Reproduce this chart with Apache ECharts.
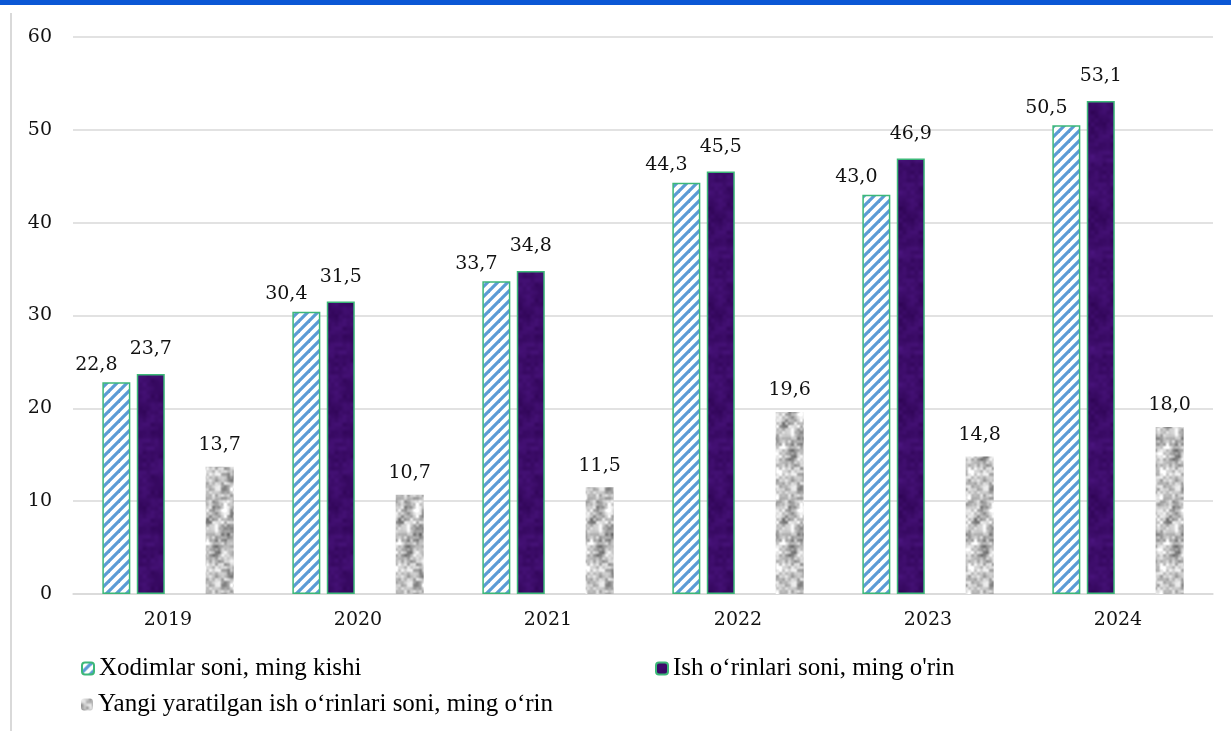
<!DOCTYPE html>
<html>
<head>
<meta charset="utf-8">
<script src="https://cdn.jsdelivr.net/npm/echarts@6/dist/echarts.min.js"></script>
<style>
html,body{margin:0;padding:0;background:#fff;}
#chart{width:1231px;height:731px;}
</style>
</head>
<body>
<div id="chart"></div>
<script>
const categories = ['2019','2020','2021','2022','2023','2024'];
const xodimlar = [22.8, 30.4, 33.7, 44.3, 43.0, 50.5];
const ishOrinlari = [23.7, 31.5, 34.8, 45.5, 46.9, 53.1];
const yangiOrinlar = [13.7, 10.7, 11.5, 19.6, 14.8, 18.0];
const seriesNames = ['Xodimlar soni, ming kishi', 'Ish o‘rinlari soni, ming o\'rin', 'Yangi yaratilgan ish o‘rinlari soni, ming o‘rin'];
const yTicks = [0, 10, 20, 30, 40, 50, 60];

function hash(x, y, s) {
  const v = Math.sin(x * 127.1 + y * 311.7 + s * 74.7) * 43758.5453;
  return v - Math.floor(v);
}
function smoothNoise(x, y, s, scale, period) {
  const p = Math.round(period / scale);
  const xi = Math.floor(x / scale), yi = Math.floor(y / scale);
  const fx = x / scale - xi, fy = y / scale - yi;
  const h = (a, b) => hash(((a % p) + p) % p, ((b % p) + p) % p, s);
  const a = h(xi, yi), b = h(xi + 1, yi), c = h(xi, yi + 1), d = h(xi + 1, yi + 1);
  const ux = fx * fx * (3 - 2 * fx), uy = fy * fy * (3 - 2 * fy);
  return a * (1 - ux) * (1 - uy) + b * ux * (1 - uy) + c * (1 - ux) * uy + d * ux * uy;
}
function stripePattern() {
  const c = document.createElement('canvas');
  c.width = 10; c.height = 10;
  const g = c.getContext('2d');
  g.fillStyle = '#ffffff'; g.fillRect(0, 0, 10, 10);
  g.strokeStyle = '#5b9bd5'; g.lineWidth = 3.2;
  for (let k = -1; k <= 1; k++) {
    g.beginPath();
    g.moveTo(-2 + k * 10, 12);
    g.lineTo(12 + k * 10, -2);
    g.stroke();
  }
  return c;
}
function texturePattern(base, amp, seed, size, s1, s2) {
  const c = document.createElement('canvas');
  c.width = size; c.height = size;
  const g = c.getContext('2d');
  const img = g.createImageData(size, size);
  for (let y = 0; y < size; y++) {
    for (let x = 0; x < size; x++) {
      const n = 0.6 * smoothNoise(x, y, seed, s1, size) + 0.4 * smoothNoise(x, y, seed + 3, s2, size) - 0.5;
      const i = (y * size + x) * 4;
      img.data[i] = Math.max(0, Math.min(255, base[0] + n * amp[0]));
      img.data[i + 1] = Math.max(0, Math.min(255, base[1] + n * amp[1]));
      img.data[i + 2] = Math.max(0, Math.min(255, base[2] + n * amp[2]));
      img.data[i + 3] = 255;
    }
  }
  g.putImageData(img, 0, 0);
  return c;
}
const stripes = { image: stripePattern(), repeat: 'repeat' };
const purple = { image: texturePattern([60, 12, 105], [30, 18, 45], 1, 96, 12, 4), repeat: 'repeat' };
const gray = { image: texturePattern([178, 178, 178], [200, 200, 200], 7, 96, 8, 3), repeat: 'repeat' };

const FONT_NUM = 'DejaVu Serif';
const FONT_LEG = 'Liberation Serif';
const labelBase = { show: true, position: 'top', fontFamily: FONT_NUM, fontSize: 19, color: '#111',
  formatter: p => p.value.toFixed(1).replace('.', ',') };
function legendText() { return { fontFamily: FONT_LEG, fontSize: 25, color: '#000' }; }

const chart = echarts.init(document.getElementById('chart'));
chart.setOption({
  animation: false,
  backgroundColor: '#fff',
  textStyle: { fontFamily: FONT_LEG },
  graphic: [
    { type: 'rect', shape: { x: 0, y: 0, width: 1231, height: 5 }, style: { fill: '#0b57d5' }, silent: true },
    { type: 'rect', shape: { x: 10, y: 13, width: 2, height: 718 }, style: { fill: '#d9d9d9' }, silent: true }
  ],
  grid: { left: 73, right: 18, top: 37, bottom: 137 },
  legend: [
    { data: [seriesNames[0]], left: 76, top: 651, itemWidth: 12, itemHeight: 12, itemGap: 0, textStyle: legendText() },
    { data: [seriesNames[1]], left: 650, top: 651, itemWidth: 12, itemHeight: 12, itemGap: 0, textStyle: legendText() },
    { data: [seriesNames[2]], left: 76, top: 687, itemWidth: 12, itemHeight: 12, itemGap: 0, textStyle: legendText() }
  ],
  xAxis: {
    type: 'category', data: categories,
    axisLine: { lineStyle: { color: '#d9d9d9', width: 1.5 } },
    axisTick: { show: false },
    axisLabel: { fontFamily: FONT_NUM, fontSize: 19, color: '#111', margin: 17 }
  },
  yAxis: {
    type: 'value', min: yTicks[0], max: yTicks[yTicks.length - 1], interval: 10,
    axisLine: { show: false }, axisTick: { show: false },
    axisLabel: { fontFamily: FONT_NUM, fontSize: 19, color: '#111', margin: 21 },
    splitLine: { lineStyle: { color: '#d9d9d9', width: 1.5 } }
  },
  series: [
    { name: seriesNames[0], type: 'bar', data: xodimlar, barWidth: 28, barGap: '23%',
      itemStyle: { color: stripes, borderColor: '#3cb878', borderWidth: 1.5 },
      label: Object.assign({}, labelBase, { distance: 8, offset: [-20, 0] }) },
    { name: seriesNames[1], type: 'bar', data: ishOrinlari, barWidth: 28, barGap: '23%',
      itemStyle: { color: purple, borderColor: '#3cb878', borderWidth: 1.5 },
      label: Object.assign({}, labelBase, { distance: 15, offset: [0, 0] }) },
    { name: 'spacer', type: 'bar', data: categories.map(() => '-'), barWidth: 28, barGap: '23%' },
    { name: seriesNames[2], type: 'bar', data: yangiOrinlar, barWidth: 28, barGap: '23%',
      itemStyle: { color: gray },
      label: Object.assign({}, labelBase, { distance: 12 }) }
  ]
});
</script>
</body>
</html>
